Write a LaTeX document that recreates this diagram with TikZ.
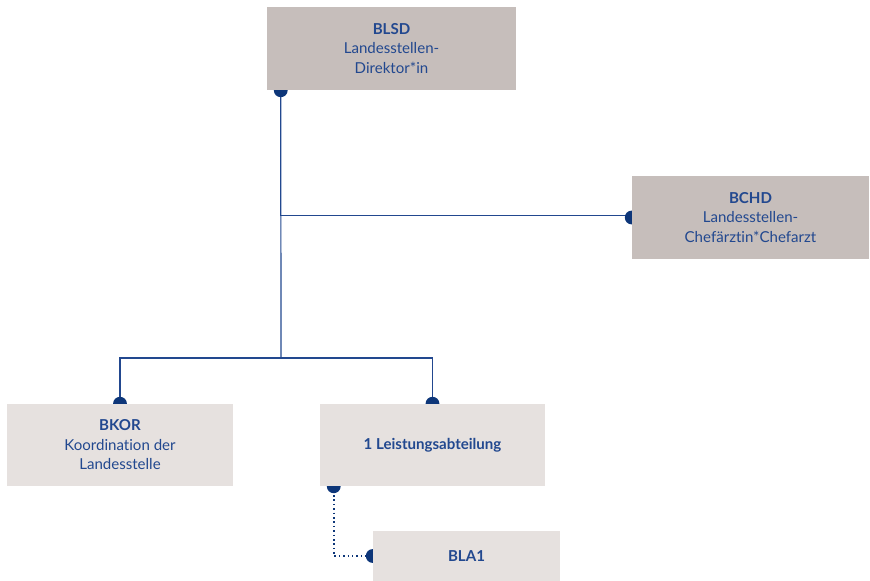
\documentclass[tikz,border=0pt]{standalone}
\usepackage{fontspec}
\setmainfont{Lato}[Ligatures={NoCommon}]
\usepackage{xcolor}
\usepackage{tikz}
\definecolor{orgblue}{HTML}{22488F}
\definecolor{dotblue}{HTML}{0D3679}
\definecolor{boxdark}{HTML}{C6BEBB}
\definecolor{boxlight}{HTML}{E6E1DF}
\tikzset{unit/.style={fill=boxdark,text=orgblue,align=center,inner sep=0pt,
   font=\fontsize{11.3}{14.6}\selectfont},
 subunit/.style={unit,fill=boxlight},
 link/.style={draw=orgblue,line width=0.9pt},
 sublink/.style={draw=dotblue,line width=1.4pt,dash pattern=on 1.1pt off 2.2pt},
 knob/.style={fill=dotblue},
 }
\usetikzlibrary{backgrounds}

\begin{document}
\begin{tikzpicture}[x=0.75pt,y=-0.75pt]
        \useasboundingbox (0,0) rectangle (870,581);
        \node[unit, minimum width=186.75pt, minimum height=62.25pt] (blsd) at (391.5,48.5)
            {\textbf{BLSD}\\Landesstellen-\\Direktor*in};
        \node[unit, minimum width=177.75pt, minimum height=62.25pt] (bchd) at (750.5,217.5)
            {\textbf{BCHD}\\Landesstellen-\\Chefärztin*Chefarzt};
        \node[subunit, minimum width=169.5pt, minimum height=61.5pt] (bkor) at (120,445)
            {\textbf{BKOR}\\Koordination der\\Landesstelle};
        \node[subunit, minimum width=168.75pt, minimum height=61.5pt] (lab) at (432.5,445)
            {\textbf{1 Leistungsabteilung}};
        \node[subunit, minimum width=140.25pt, minimum height=37.5pt] (bla) at (466.5,556)
            {\textbf{BLA1}};
        \coordinate (top) at ([xshift=10.5pt]blsd.south west);
        \coordinate (split) at (281,358);
        \coordinate (sub) at ([xshift=10.5pt]lab.south west);
        \begin{scope}[on background layer]
            \draw[link] (top) |- ([yshift=1.5pt]bchd.west);
            \draw[link] (top) -- (split);
            \draw[link] (bkor.north) |- (split) -| (lab.north);
            \draw[sublink] (sub) |- (bla.west);
            \foreach \p in {top, bchd.west, bkor.north, lab.north, sub, bla.west}
                \fill[knob] (\p) circle (5.2pt);
        \end{scope}
    \end{tikzpicture}
\end{document}
